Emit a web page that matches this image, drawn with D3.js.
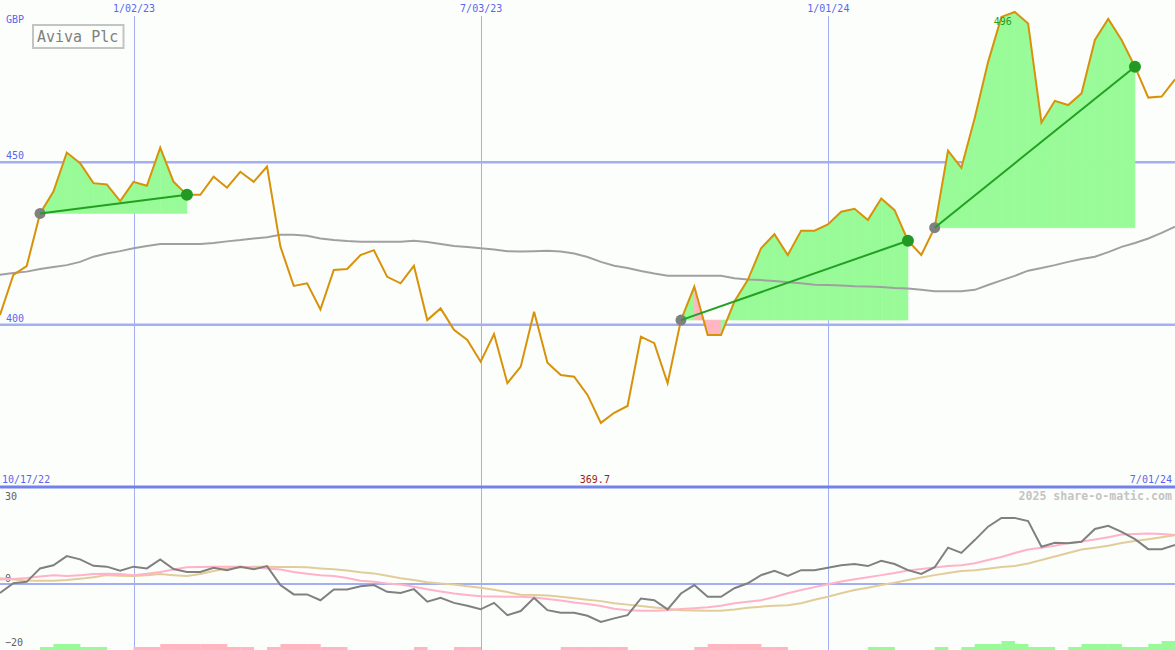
<!DOCTYPE html>
<html><head><meta charset="utf-8">
<script src="https://cdn.jsdelivr.net/npm/d3@7"></script>
<style>
body{margin:0;background:#fcfefc}
svg{display:block}
text{font-family:"DejaVu Sans Mono",monospace}
</style>
</head><body>
<svg id="c" width="1175" height="650"></svg>
<script>
// ---------------- data ----------------
const firstWeek = "2022-10-24";
const lastWeek = "2024-07-01";
const title = "Aviva Plc";
const currency = "GBP";
const price = [402.9,415.2,417.9,434.1,440.8,452.8,449.5,443.4,443.0,437.9,
 443.8,442.6,454.3,443.8,439.8,439.8,445.4,442.0,446.9,443.8,
 448.5,423.9,411.8,412.6,404.6,416.7,417.0,421.3,422.8,414.6,
 412.6,418.0,401.3,404.9,398.3,395.2,388.5,397.0,381.9,387.0,
 403.9,388.2,384.4,383.9,378.3,369.7,372.8,374.9,396.2,394.2,
 381.9,401.3,411.6,396.7,396.7,407.0,413.6,423.4,427.7,421.3,
 428.8,428.8,430.7,434.6,435.5,432.1,438.7,435.1,425.7,421.3,
 429.7,453.4,448.1,463.4,480.6,494.5,496.0,492.5,462.0,468.7,
 467.4,471.0,487.4,493.9,487.4,479.2,469.7,470.0,475.3];
const priceMA = [415.2,415.8,416.2,417.0,417.6,418.2,419.2,420.8,421.8,422.5,
 423.4,424.1,424.7,424.7,424.7,424.7,425.0,425.5,425.9,426.4,
 426.8,427.5,427.5,427.2,426.4,425.9,425.6,425.4,425.4,425.4,
 425.4,425.7,425.3,424.7,424.1,423.8,423.4,423.0,422.5,422.4,
 422.5,422.6,422.4,421.8,420.7,419.2,418.0,417.3,416.4,415.6,
 414.9,414.9,414.9,414.9,414.9,414.2,413.8,413.6,413.3,412.9,
 412.6,412.2,412.1,411.9,411.7,411.6,411.5,411.2,411.0,410.6,
 410.2,410.2,410.2,410.6,412.1,413.5,414.9,416.5,417.3,418.2,
 419.2,420.1,420.8,422.2,423.8,425.0,426.4,428.1,430.0];
const osc = [-3.2,0.1,0.6,5.2,6.3,9.4,8.3,6.1,5.8,4.4,
 5.8,5.2,8.3,5.0,4.0,4.0,5.4,4.6,5.8,4.9,
 6.0,-0.5,-3.7,-3.7,-5.7,-2.0,-2.0,-0.9,-0.5,-2.8,
 -3.2,-1.9,-6.2,-4.9,-6.6,-7.6,-8.8,-6.6,-10.8,-9.4,
 -4.9,-9.1,-10.0,-10.0,-11.0,-13.1,-11.9,-10.8,-5.1,-5.7,
 -8.8,-3.4,-0.5,-4.5,-4.5,-1.6,0.1,2.9,4.4,2.6,
 4.6,4.6,5.4,6.3,6.7,6.0,7.8,6.7,4.6,3.3,
 5.6,12.3,10.5,14.9,19.5,22.5,22.5,21.4,12.6,14.0,
 13.8,14.3,18.7,19.8,17.7,15.2,11.8,11.8,13.2];
const oscPink = [1.4,1.6,1.9,2.4,2.9,2.6,2.9,3.3,3.4,3.3,
 2.9,3.4,4.0,4.8,5.6,5.7,5.8,5.8,5.8,5.5,
 5.2,4.8,4.0,3.4,2.9,2.6,1.9,1.0,0.6,0.0,
 -0.3,-1.1,-1.9,-2.7,-3.4,-3.9,-4.3,-4.4,-4.5,-4.5,
 -4.8,-5.3,-5.8,-6.5,-7.0,-7.7,-8.6,-9.1,-9.3,-9.3,
 -9.1,-8.7,-8.4,-8.1,-7.6,-6.7,-6.2,-5.7,-4.6,-3.3,
 -2.2,-1.2,-0.2,0.7,1.5,2.2,2.9,3.6,4.5,5.0,
 5.5,6.0,6.3,7.0,8.1,9.1,10.5,11.7,12.3,13.0,
 13.9,14.4,15.1,15.9,16.8,17.0,17.2,17.0,16.6];
const oscTan = [1.8,1.4,1.1,1.0,1.0,1.2,1.7,2.2,2.9,2.7,
 2.6,2.9,3.3,2.9,2.6,3.3,4.3,5.2,5.5,5.8,
 5.8,5.7,5.7,5.6,5.2,4.9,4.5,3.9,3.5,2.7,
 1.8,1.2,0.5,0.0,-0.3,-0.9,-1.4,-2.1,-2.9,-3.8,
 -3.9,-4.1,-4.5,-5.0,-5.5,-6.0,-6.7,-7.2,-7.7,-8.2,
 -8.6,-9.1,-9.2,-9.3,-9.3,-8.9,-8.3,-7.9,-7.6,-7.4,
 -6.7,-5.5,-4.5,-3.3,-2.2,-1.4,-0.5,0.3,1.2,2.1,
 2.9,3.6,4.3,4.6,5.1,5.7,6.0,6.9,8.1,9.3,
 10.5,11.7,12.3,13.0,13.9,14.6,15.2,15.9,16.6];
const weekBars = [0,0,0,1,2,2,1,1,0,0,
 -1,-1,-2,-2,-2,-2,-2,-1,-1,0,
 -1,-2,-2,-2,-1,-1,0,0,0,0,
 0,-1,0,0,-1,-1,0,0,0,0,
 0,0,-1,-1,-1,-1,-1,0,0,0,
 0,0,-1,-2,-2,-2,-2,-1,-1,0,
 0,0,0,0,0,1,1,0,0,0,
 1,0,1,2,2,3,2,1,1,0,
 1,2,2,2,1,1,2,3];
const trendStarts = [3,51,70];
const trendEnds = [14,68,85];
const dateTicks = ["2023-01-02","2023-07-03","2024-01-01"];
const dateTickLabels = ["1/02/23","7/03/23","1/01/24"];
const priceTicks = [400,450];
const oscTicks = [30,0,-20];
const rangeLabels = ["10/17/22","7/01/24"];
const minLabel = "369.7";
const maxLabel = "496";
const credit = "2025 share-o-matic.com";

// ---------------- setup ----------------
const W = 1175, H = 650;
const svg = d3.select("#c");
svg.append("rect").attr("width",W).attr("height",H).attr("fill","#fcfefc");
const parse = d3.utcParse("%Y-%m-%d");
const t0 = parse(firstWeek);
const dates = price.map((_, i) => d3.utcDay.offset(t0, 7*i));
const x = d3.scaleUtc().domain([t0, parse(lastWeek)]).range([0, W]);
const y = d3.scaleLinear().domain([350, 500]).range([487, -1]);
const yo = d3.scaleLinear().domain([-20, 30]).range([642, 496]);
const hb = d3.scaleLinear().domain([0, 3]).range([0, 9]);

const gridC = "#a4aef2", labC = "#5866f0";

// vertical date grid via axis
const ax = svg.append("g").attr("transform","translate(0,16)")
  .call(d3.axisTop(x).tickValues(dateTicks.map(parse))
    .tickFormat((d,i)=>dateTickLabels[i]).tickSize(-640).tickPadding(4));
ax.select(".domain").remove();
ax.selectAll("line").attr("stroke",gridC).attr("stroke-width",1).attr("shape-rendering","crispEdges");
ax.selectAll("text").attr("fill",labC).attr("font-size",10)
  .attr("font-family","DejaVu Sans Mono");

// horizontal price grid via axis
const ay = svg.append("g").call(d3.axisRight(y).tickValues(priceTicks).tickSize(W).tickFormat(""));
ay.select(".domain").remove();
ay.selectAll("line").attr("stroke",gridC).attr("stroke-width",2.5);
const ayl = svg.append("g").call(d3.axisRight(y).tickValues(priceTicks).tickSize(0).tickPadding(6));
ayl.select(".domain").remove();
ayl.selectAll("text").attr("fill",labC).attr("font-size",10).attr("dy","-3")
  .attr("font-family","DejaVu Sans Mono");

// oscillator zero line
const ao = svg.append("g").call(d3.axisRight(yo).tickValues([0]).tickSize(W).tickFormat(""));
ao.select(".domain").remove();
ao.selectAll("line").attr("stroke",gridC).attr("stroke-width",2);
const aol = svg.append("g").call(d3.axisRight(yo).tickValues(oscTicks).tickSize(0).tickPadding(5));
aol.select(".domain").remove();
aol.selectAll("text").attr("fill","#606060").attr("font-size",10)
  .attr("dy", d => d === 0 ? "-2" : "0.32em")
  .attr("font-family","DejaVu Sans Mono");

// separator
svg.append("line").attr("x1",0).attr("x2",W).attr("y1",487).attr("y2",487)
  .attr("stroke","#7282ea").attr("stroke-width",3);

// ---------------- main panel ----------------
const main = svg.append("g");
trendStarts.forEach((s, j) => {
  const e = trendEnds[j], base = price[s];
  for (let k = s; k < e; k++) {
    const col = price[k+1] >= base ? "#98fb98" : "#ffb6c1";
    const pts = [[x(dates[k]), y(base)],[x(dates[k]), y(price[k])],
                 [x(dates[k+1]), y(price[k+1])],[x(dates[k+1]), y(base)]];
    main.append("path").attr("d", d3.line()(pts) + "Z")
      .attr("fill", col).attr("stroke", col).attr("stroke-width", 0.6);
  }
});
const line = d3.line().x((d,i)=>x(dates[i])).y(d=>y(d));
main.append("path").attr("d", line(priceMA)).attr("fill","none")
  .attr("stroke","#a0a0a0").attr("stroke-width",2);
main.append("path").attr("d", line(price)).attr("fill","none")
  .attr("stroke","#d8920a").attr("stroke-width",2).attr("stroke-linejoin","miter");
trendStarts.forEach((s, j) => {
  main.append("circle").attr("cx", x(dates[s])).attr("cy", y(price[s])).attr("r",5.5).attr("fill","#808080");
});
trendStarts.forEach((s, j) => {
  const e = trendEnds[j];
  main.append("line").attr("x1", x(dates[s])).attr("y1", y(price[s]))
    .attr("x2", x(dates[e])).attr("y2", y(price[e]))
    .attr("stroke","#22a022").attr("stroke-width",2);
  main.append("circle").attr("cx", x(dates[e])).attr("cy", y(price[e])).attr("r",6).attr("fill","#229922");
});

const iMax = d3.maxIndex(price), iMin = d3.minIndex(price);
svg.append("text").attr("x", x(dates[iMax]) - 12).attr("y", 25).attr("text-anchor","middle")
  .attr("fill","#22a022").attr("font-size",10).text(maxLabel);

// ---------------- oscillator panel ----------------
const low = svg.append("g");
weekBars.forEach((v, k) => {
  if (!v) return;
  const x0 = x(dates[k]), x1 = x(dates[k+1]);
  const h = hb(Math.abs(v));
  low.append("rect").attr("x", x0).attr("width", x1 - x0 + 0.3).attr("y", 650 - h).attr("height", h)
    .attr("fill", v > 0 ? "#98fb98" : "#ffb6c1");
});
const lo = d3.line().x((d,i)=>x(dates[i])).y(d=>yo(d));
low.append("path").attr("d", lo(oscTan)).attr("fill","none").attr("stroke","#e2cc9a").attr("stroke-width",2);
low.append("path").attr("d", lo(oscPink)).attr("fill","none").attr("stroke","#ffb2c8").attr("stroke-width",2);
low.append("path").attr("d", lo(osc)).attr("fill","none").attr("stroke","#808080").attr("stroke-width",2);

// ---------------- texts ----------------
svg.append("text").attr("x",6).attr("y",23).attr("fill",labC).attr("font-size",10).text(currency);
svg.append("rect").attr("x",33).attr("y",25).attr("width",90.5).attr("height",23)
  .attr("fill","#fcfefc").attr("stroke","#c4c4c4").attr("stroke-width",2);
svg.append("text").attr("x",37).attr("y",42).attr("fill","#808080").attr("font-size",15).text(title);
svg.append("text").attr("x",2).attr("y",483).attr("fill",labC).attr("font-size",10).text(rangeLabels[0]);
svg.append("text").attr("x",1172).attr("y",483).attr("text-anchor","end").attr("fill",labC).attr("font-size",10).text(rangeLabels[1]);
svg.append("text").attr("x", x(dates[iMin]) - 6).attr("y",483).attr("text-anchor","middle")
  .attr("fill","#a01c1c").attr("font-size",10).text(minLabel);
svg.append("text").attr("x",1172).attr("y",500).attr("text-anchor","end").attr("fill","#c4c4c4")
  .attr("font-size",11.6).attr("font-weight","bold").text(credit);
</script>
</body></html>
